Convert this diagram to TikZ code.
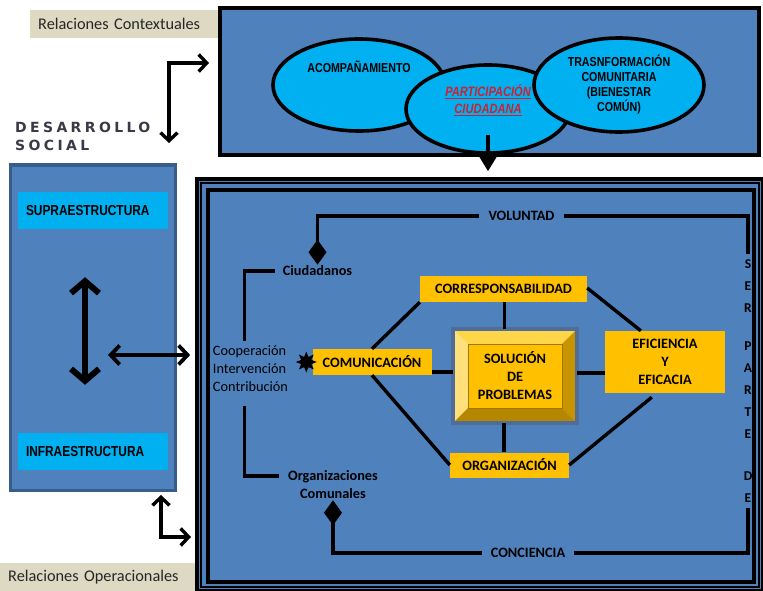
\documentclass[tikz,border=0pt]{standalone}
\usepackage{fontspec}
\setmainfont{Carlito}
\newfontfamily\narrowsf[FakeStretch=0.82]{Liberation Sans}
\newfontfamily\spacedsf[LetterSpace=24]{DejaVu Sans}
\usetikzlibrary{arrows.meta,shapes.geometric}

\definecolor{panel}{HTML}{4F81BD}
\definecolor{panelline}{HTML}{385D8A}
\definecolor{sky}{HTML}{00B0F0}
\definecolor{gold}{HTML}{FFC000}
\definecolor{sand}{HTML}{DDD9C3}
\definecolor{redtxt}{HTML}{D0202E}
\definecolor{titletxt}{HTML}{3A3A46}
\definecolor{bevtop}{HTML}{FFD54A}
\definecolor{bevleft}{HTML}{FFE07A}
\definecolor{bevright}{HTML}{C79400}
\definecolor{bevbot}{HTML}{B58700}
\definecolor{bevline}{HTML}{4E6D99}

\begin{document}
\begin{tikzpicture}[x=1pt,y=-1pt,
    ln/.style={line width=3.4pt},
    lnarr/.style={line width=3.4pt,{Straight Barb[length=8pt,width=17pt]}-{Straight Barb[length=8pt,width=17pt]}},
    tag/.style={fill=sand,minimum height=28pt,inner xsep=8pt,inner ysep=0pt,text width=#1,align=left,font=\fontsize{16.3}{19}\selectfont,text=black!85},
    ell/.style={ellipse,draw,line width=3.6pt,fill=sky,inner sep=0pt},
    elltxt/.style={font=\narrowsf\bfseries\fontsize{13}{15}\selectfont,align=center},
    cybox/.style={fill=sky,minimum width=150pt,minimum height=37pt,inner xsep=8pt,text width=134pt,align=left,font=\narrowsf\bfseries\fontsize{14.5}{17}\selectfont},
    gbox/.style={fill=gold,inner sep=0pt,align=center,font=\bfseries\fontsize{14.3}{18}\selectfont},
    lbl/.style={font=\bfseries\fontsize{14.3}{18}\selectfont,inner sep=1pt,align=center},
    diam/.style={ln,-{Diamond[length=25pt,width=18pt]}}]
  \useasboundingbox (0,0) rectangle (763,591);

  \node[tag=174pt,anchor=west] (rc) at (30,24) {Relaciones Contextuales};
  \node[draw,line width=3.6pt,fill=panel,minimum width=539pt,minimum height=147pt] (ctx) at (489.5,81.5) {};
  \node[ell,minimum width=172pt,minimum height=92pt,label={[elltxt,yshift=18pt]center:ACOMPAÑAMIENTO}] (acp) at (359,85) {};
  \node[ell,minimum width=164pt,minimum height=88pt,label={[elltxt,font=\narrowsf\bfseries\itshape\fontsize{13.5}{17}\selectfont,text=redtxt,yshift=9pt]center:{\underline{PARTICIPACIÓN}\\\underline{CIUDADANA}}}] (part) at (488,109) {};
  \node[ell,minimum width=170pt,minimum height=94pt,label={[elltxt]center:{TRASNFORMACIÓN\\COMUNITARIA\\(BIENESTAR\\COMÚN)}}] (tra) at (619,85) {};

  \node[anchor=north west,font=\spacedsf\bfseries\fontsize{14}{18}\selectfont,text=titletxt,align=left,inner sep=0pt] (dsname) at (15,122) {DESARROLLO\\SOCIAL};
  \coordinate (toDS) at (169,143);
  \coordinate (toCtx) at (209,63);
  \draw[lnarr] (toDS) |- (toCtx);

  \node[draw=panelline,line width=3pt,fill=panel,minimum width=165pt,minimum height=325pt] (ds) at (92.5,327.5) {};
  \node[cybox] (supra) at (93,210.5) {SUPRAESTRUCTURA};
  \node[cybox] (infra) at (93,451.5) {INFRAESTRUCTURA};
  \draw[line width=6pt,{Straight Barb[length=12pt,width=28pt]}-{Straight Barb[length=12pt,width=28pt]}] ([xshift=-8pt,yshift=-48pt]supra.south) -- ([xshift=-8pt,yshift=48pt]infra.north);

  \node[draw,line width=3.6pt,fill=panel,minimum width=566pt,minimum height=412pt] (op) at (480,385) {};
  \draw[line width=1.8pt] ([shift={(6,6)}]op.north west) rectangle ([shift={(-6,-6)}]op.south east);
  \draw[line width=4pt] ([shift={(13,13)}]op.north west) rectangle ([shift={(-11,-11)}]op.south east);
  \draw[ln,-{Triangle[length=14pt,width=16pt]}] ([yshift=-26pt]part.center) -- ([yshift=6pt]part.center |- op.north);

  \coordinate (hin) at (108,355);
  \draw[line width=3.8pt,{Straight Barb[length=9pt,width=19pt]}-{Straight Barb[length=9pt,width=19pt]}] (hin) -- ([xshift=-5pt]op.west |- hin);
  \coordinate (upDS) at (161,495);
  \coordinate (toOp) at (191,537);
  \draw[lnarr] (upDS) |- (toOp);
  \node[tag=179pt,anchor=west] (ro) at (0,577) {Relaciones Operacionales};

  \node[lbl,inner xsep=9pt] (vol) at (521.5,216) {VOLUNTAD};
  \node[lbl] (ciu) at (317.5,271) {Ciudadanos};
  \node[font=\fontsize{14.3}{18}\selectfont,align=left,inner sep=2pt] (coop) at (250.5,369) {Cooperación\\Intervención\\Contribución};
  \node[lbl] (orgc) at (333,485) {Organizaciones\\Comunales};
  \node[lbl,inner xsep=9pt] (con) at (528,553) {CONCIENCIA};
  \node[lbl,font=\bfseries\fontsize{13.5}{22}\selectfont] (ser) at (748,381) {S\\E\\R\\[16pt]P\\A\\R\\T\\E\\[20pt]D\\E};
  \draw[diam] (vol.west) -| (ciu.north);
  \draw[ln] (vol.east) -| ([yshift=4pt]ser.north);
  \draw[diam] (con.west) -| (orgc.south);
  \draw[ln] (con.east) -| ([yshift=-4pt]ser.south);
  \draw[ln] ([xshift=-7pt]ciu.west) -| ([xshift=34pt,yshift=3pt]coop.north west);
  \draw[ln] ([xshift=34pt,yshift=-12pt]coop.south west) |- ([xshift=-8pt,yshift=9pt]orgc.west);

  \node[gbox,minimum width=167pt,minimum height=26pt] (cor) at (503.5,289) {CORRESPONSABILIDAD};
  \node[gbox,minimum width=119pt,minimum height=26pt] (com) at (372,362) {COMUNICACIÓN};
  \node[gbox,minimum width=119pt,minimum height=25pt] (orgz) at (509.5,465) {ORGANIZACIÓN};
  \node[gbox,minimum width=120pt,minimum height=62pt] (efi) at (665,362) {EFICIENCIA\\Y\\EFICACIA};
  \node[star,star points=8,star point ratio=1.9,fill=black,inner sep=0pt,minimum size=21pt] (spark) at ([xshift=-6pt]com.west) {};

  \node[fill=bevtop,inner sep=0pt,minimum width=124pt,minimum height=94pt] (solo) at (515,376) {};
  \fill[bevleft] (solo.north west) -- (solo.south west) -- ([shift={(15,-15)}]solo.south west) -- ([shift={(15,15)}]solo.north west) -- cycle;
  \fill[bevright] (solo.north east) -- (solo.south east) -- ([shift={(-15,-15)}]solo.south east) -- ([shift={(-15,15)}]solo.north east) -- cycle;
  \fill[bevbot] (solo.south west) -- (solo.south east) -- ([shift={(-15,-15)}]solo.south east) -- ([shift={(15,-15)}]solo.south west) -- cycle;
  \draw[bevline,line width=3.5pt] (solo.north west) rectangle (solo.south east);
  \node[gbox,draw=bevright!80!black,line width=0.6pt,minimum width=94pt,minimum height=64pt] (sol) at (solo) {SOLUCIÓN\\DE\\PROBLEMAS};

  \draw[ln] (com.north) -- (cor.south west);
  \draw[ln] (com.south) -- (orgz.west);
  \draw[ln] ([yshift=4pt]solo.west) -- ([yshift=4pt]solo.west -| com.east);
  \draw[ln] ([xshift=1pt]cor.south) -- ([xshift=1pt]cor.south |- solo.north);
  \draw[ln] ([xshift=-11pt]solo.south) -- ([xshift=-11pt]solo.south |- orgz.north);
  \draw[ln] ([yshift=3pt]solo.east) -- ([yshift=3pt]solo.east -| efi.west);
  \draw[ln] ([yshift=1pt]cor.east) -- ([xshift=36pt]efi.north west);
  \draw[ln] ([xshift=47pt,yshift=-4pt]efi.south west) -- (orgz.east);
\end{tikzpicture}
\end{document}
